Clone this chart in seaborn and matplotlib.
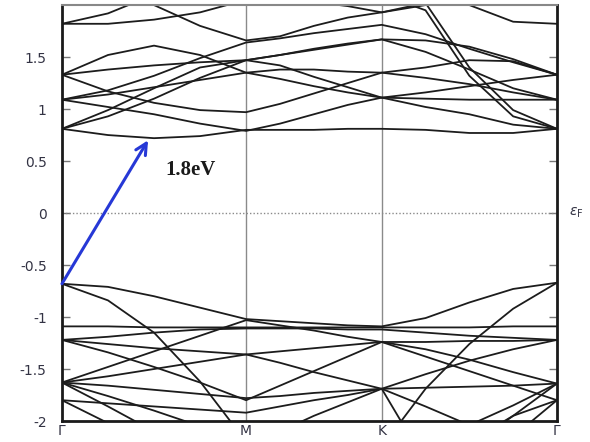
import numpy as np
import pandas as pd
import matplotlib
matplotlib.use('Agg')
import matplotlib.pyplot as plt
import seaborn as sns

# k-path: Gamma -> M -> K -> Gamma (normalised path length)
sym_labels = ['Γ', 'M', 'K', 'Γ']
sym_k = [0.0, 0.372, 0.646, 1.0]
k_points = [0.0, 0.093, 0.186, 0.279, 0.372,
            0.4405, 0.509, 0.5775, 0.646,
            0.7345, 0.823, 0.9115, 1.0]

# conduction bands (eV), read at k_points
c1 = [0.81, 0.75, 0.72, 0.74, 0.80, 0.80, 0.80, 0.81, 0.81, 0.80, 0.77, 0.77, 0.81]
c2 = [1.09, 1.02, 0.95, 0.86, 0.79, 0.86, 0.95, 1.04, 1.11, 1.02, 0.95, 0.85, 0.81]
c3 = [1.33, 1.17, 1.06, 0.99, 0.97, 1.05, 1.15, 1.25, 1.35, 1.30, 1.24, 1.16, 1.09]
c4 = [0.81, 0.93, 1.10, 1.30, 1.47, 1.52, 1.57, 1.62, 1.67, 1.55, 1.38, 1.20, 1.09]
c5 = [1.09, 1.18, 1.32, 1.49, 1.64, 1.68, 1.73, 1.77, 1.81, 1.72, 1.58, 1.45, 1.33]
c6 = [1.33, 1.52, 1.61, 1.52, 1.35, 1.29, 1.22, 1.16, 1.11, 1.16, 1.22, 1.28, 1.33]
c7 = [1.33, 1.38, 1.42, 1.45, 1.47, 1.42, 1.31, 1.21, 1.11, 1.10, 1.09, 1.09, 1.09]
c8 = [1.82, 1.82, 1.86, 1.93, 2.05, 2.05, 2.03, 1.99, 1.93, 2.02, 2.00, 1.84, 1.82]
c9 = [1.82, 1.92, 2.10, 2.30, 2.40, 2.40, 2.30, 2.20, 2.10, 1.95, 1.32, 0.93, 0.81]
c10 = [2.50, 2.50, 2.50, 2.50, 2.50, 2.50, 2.40, 2.30, 2.20, 2.02, 1.40, 0.99, 0.81]
c11 = [1.09, 1.14, 1.21, 1.28, 1.35, 1.38, 1.38, 1.36, 1.35, 1.40, 1.47, 1.46, 1.33]
c12 = [0.81, 0.99, 1.20, 1.40, 1.47, 1.52, 1.58, 1.63, 1.67, 1.66, 1.60, 1.48, 1.33]
c13 = [2.30, 2.20, 2.00, 1.80, 1.66, 1.70, 1.80, 1.88, 1.93, 2.00, 2.10, 2.20, 2.30]

# valence bands (eV)
v1 = [-0.68, -0.71, -0.80, -0.91, -1.02, -1.04, -1.06, -1.08, -1.09, -1.01, -0.86, -0.73, -0.67]
v2 = [-0.68, -0.84, -1.15, -1.62, -2.20, -2.50, -2.60, -2.60, -2.25, -1.69, -1.26, -0.92, -0.67]
v3 = [-1.09, -1.09, -1.10, -1.10, -1.10, -1.10, -1.10, -1.10, -1.10, -1.10, -1.10, -1.09, -1.09]
v4 = [-1.22, -1.19, -1.15, -1.12, -1.11, -1.11, -1.11, -1.12, -1.12, -1.15, -1.18, -1.20, -1.22]
v5 = [-1.22, -1.26, -1.30, -1.33, -1.36, -1.33, -1.30, -1.27, -1.24, -1.24, -1.23, -1.23, -1.22]
v6 = [-1.22, -1.34, -1.48, -1.63, -1.80, -1.66, -1.52, -1.38, -1.24, -1.31, -1.41, -1.53, -1.64]
v7 = [-1.63, -1.48, -1.33, -1.18, -1.03, -1.08, -1.13, -1.19, -1.24, -1.38, -1.52, -1.66, -1.80]
v8 = [-1.63, -1.57, -1.50, -1.43, -1.36, -1.44, -1.53, -1.61, -1.69, -1.55, -1.42, -1.31, -1.22]
v9 = [-1.63, -1.66, -1.70, -1.74, -1.78, -1.76, -1.73, -1.71, -1.69, -1.68, -1.67, -1.66, -1.64]
v10 = [-1.63, -1.76, -1.90, -2.05, -2.20, -2.10, -1.95, -1.82, -1.69, -1.86, -2.04, -1.85, -1.64]
v11 = [-1.80, -1.83, -1.86, -1.89, -1.92, -1.86, -1.80, -1.75, -1.69, -2.40, -2.20, -1.95, -1.80]
v12 = [-1.63, -1.86, -2.10, -2.30, -2.40, -2.40, -2.40, -2.40, -2.40, -2.40, -2.25, -1.95, -1.64]
v13 = [-1.80, -2.02, -2.25, -2.40, -2.50, -2.50, -2.50, -2.50, -2.50, -2.50, -2.40, -2.15, -1.80]

bands = {
    'c1': c1, 'c2': c2, 'c3': c3, 'c4': c4, 'c5': c5, 'c6': c6, 'c7': c7,
    'c8': c8, 'c9': c9, 'c10': c10, 'c11': c11, 'c12': c12, 'c13': c13,
    'v1': v1, 'v2': v2, 'v3': v3, 'v4': v4, 'v5': v5, 'v6': v6, 'v7': v7,
    'v8': v8, 'v9': v9, 'v10': v10, 'v11': v11, 'v12': v12, 'v13': v13,
}

# gap arrow (Gamma VBM -> CBM) and label
gap_start = (0.0, -0.68)
gap_end = (0.174, 0.70)
gap_label = '1.8eV'

y_ticks = [-2, -1.5, -1, -0.5, 0, 0.5, 1, 1.5]
y_ticklabels = ['-2', '-1.5', '-1', '-0.5', '0', '0.5', '1', '1.5']


def main():
    rows = []
    for name, energies in bands.items():
        for k, e in zip(k_points, energies):
            rows.append({'band': name, 'k': k, 'E': e})
    df = pd.DataFrame(rows)

    sns.set_theme(style='white')
    plt.rcParams['font.family'] = ['DejaVu Sans']

    fig = plt.figure(figsize=(5.9, 4.42), dpi=100)
    ax = fig.add_axes([0.105, 0.0475, 0.839, 0.941])

    # high-symmetry verticals and Fermi level
    for k in sym_k[1:-1]:
        ax.axvline(k, color='#8a8a8a', lw=1.0, zorder=1)
    ax.axhline(0, color='#8a8a8a', lw=1.0, ls=(0, (1, 1.5)), zorder=1)

    sns.lineplot(data=df, x='k', y='E', units='band', estimator=None,
                 sort=False, color='#1c1c1c', lw=1.3, ax=ax, zorder=2)

    ax.annotate('', xy=gap_end, xytext=gap_start,
                arrowprops=dict(arrowstyle='->', color='#2638d6', lw=2.2,
                                mutation_scale=20, shrinkA=0, shrinkB=0),
                zorder=5)
    ax.text(0.208, 0.41, gap_label, fontsize=15, fontweight='bold',
            family='Liberation Serif', color='#1a1a1a', va='center', ha='left')

    ax.set_xlim(0, 1)
    ax.set_ylim(-2, 2)
    ax.set_xticks(sym_k)
    ax.set_xticklabels(sym_labels, fontsize=10, color='#333344')
    ax.set_yticks(y_ticks)
    ax.set_yticklabels(y_ticklabels, fontsize=10, color='#333344')
    ax.set_xlabel('')
    ax.set_ylabel('')

    ax.tick_params(axis='y', direction='in', length=6, width=1, color='#777777',
                   left=True, right=True, pad=11)
    ax.tick_params(axis='x', length=0, pad=2)

    for side in ['left', 'bottom', 'right']:
        ax.spines[side].set_color('#1a1a1a')
        ax.spines[side].set_linewidth(2.0)
    ax.spines['top'].set_color('#888888')
    ax.spines['top'].set_linewidth(1.5)

    ax.text(1.024, 0.0, r'$\varepsilon_{\rm F}$', transform=ax.get_yaxis_transform(),
            fontsize=10, color='#333344', va='center', ha='left')

    fig.savefig('out.png', dpi=100)
    plt.close(fig)


if __name__ == "__main__":
    main()
